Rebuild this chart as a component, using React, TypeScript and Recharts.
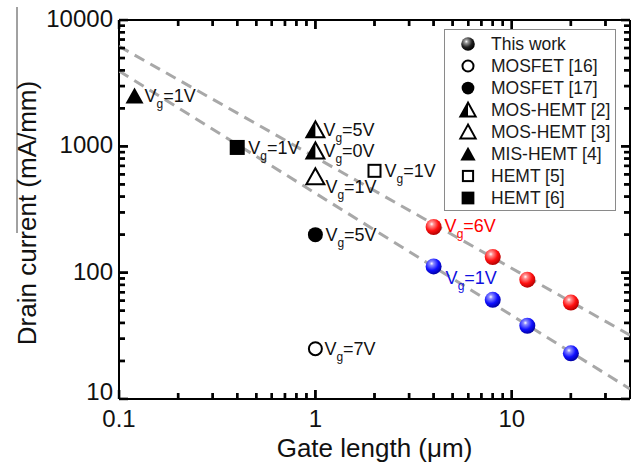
import React from 'react';
import { ScatterChart, Scatter, XAxis, YAxis, ReferenceDot } from 'recharts';

const FONT = '"Liberation Sans", Arial, Helvetica, sans-serif';

// this work: gate length (um) vs drain current (mA/mm)
const workLg = [4, 8, 12, 20];
const workId6V = [230, 133, 88, 58];
const workId1V = [112, 61, 38, 23];
const workVg6 = ['6V', '', '', ''];
const workVg1 = ['1V', '', '', ''];

// references
const mosfet16 = [{ lg: 1, id: 25, vg: '7V' }];
const mosfet17 = [{ lg: 1, id: 200, vg: '5V' }];
const mosHemt2 = [
  { lg: 1, id: 1350, vg: '5V' },
  { lg: 1, id: 920, vg: '0V' },
];
const mosHemt3 = [{ lg: 1, id: 575, vg: '1V' }];
const misHemt4 = [{ lg: 0.12, id: 2500, vg: '1V' }];
const hemt5 = [{ lg: 2, id: 640, vg: '1V' }];
const hemt6 = [{ lg: 0.4, id: 980, vg: '1V' }];

// dashed guide lines
const fitLg = [0.1, 40];
const fitHighId = [6200, 32];
const fitLowId = [3950, 12];

const xDomain = [0.1, 40];
const yDomain = [10, 10000];
const xMajor = [0.1, 1, 10];
const xMinor = [0.2, 0.3, 0.4, 0.5, 0.6, 0.7, 0.8, 0.9, 2, 3, 4, 5, 6, 7, 8, 9, 20, 30];
const yMajor = [10, 100, 1000, 10000];
const yMinor = [
  20, 30, 40, 50, 60, 70, 80, 90, 200, 300, 400, 500, 600, 700, 800, 900, 2000, 3000, 4000, 5000,
  6000, 7000, 8000, 9000,
];

const legendNames = [
  'This work',
  'MOSFET [16]',
  'MOSFET [17]',
  'MOS-HEMT [2]',
  'MOS-HEMT [3]',
  'MIS-HEMT [4]',
  'HEMT [5]',
  'HEMT [6]',
];
const legendKinds = ['black', 'circleOpen', 'circle', 'triHalf', 'triOpen', 'tri', 'squareOpen', 'square'];

const labelStyle: Record<string, { dx: number; dy: number; color: string }> = {
  work6: { dx: 11, dy: 5, color: '#ff0000' },
  work1: { dx: 12, dy: 18, color: '#1010e0' },
  mosfet16: { dx: 9, dy: 6, color: '#111' },
  mosfet17: { dx: 10, dy: 6, color: '#111' },
  mosHemt2: { dx: 8, dy: 6, color: '#111' },
  mosHemt3: { dx: 10, dy: 16, color: '#111' },
  misHemt4: { dx: 10, dy: 6, color: '#111' },
  hemt5: { dx: 10, dy: 6, color: '#111' },
  hemt6: { dx: 11, dy: 7, color: '#111' },
};

const workRows6 = workLg.map((lg, i) => ({ lg, id: workId6V[i], vg: workVg6[i] }));
const workRows1 = workLg.map((lg, i) => ({ lg, id: workId1V[i], vg: workVg1[i] }));
const fitHigh = fitLg.map((lg, i) => ({ lg, id: fitHighId[i] }));
const fitLow = fitLg.map((lg, i) => ({ lg, id: fitLowId[i] }));

// inward tick marks on all four sides of the frame
const xAll = [...xMajor, ...xMinor];
const yAll = [...yMajor, ...yMinor];
const frameMarks = [
  ...xAll.map((lg) => ({ lg, id: yDomain[0], side: 'bottom', big: xMajor.includes(lg) })),
  ...xAll.map((lg) => ({ lg, id: yDomain[1], side: 'top', big: xMajor.includes(lg) })),
  ...yAll.map((id) => ({ lg: xDomain[0], id, side: 'left', big: yMajor.includes(id) })),
  ...yAll.map((id) => ({ lg: xDomain[1], id, side: 'right', big: yMajor.includes(id) })),
];
const inward: Record<string, [number, number]> = {
  bottom: [0, -1],
  top: [0, 1],
  left: [1, 0],
  right: [-1, 0],
};

const fmt = (v: number) => String(v);

const Marker = ({ kind, cx, cy, s = 1 }: { kind: string; cx: number; cy: number; s?: number }) => {
  const w = 9 * s;
  const h = 15 * s;
  const top = cy - h / 2 - 1;
  const bot = cy + h / 2;
  const tri = `${cx},${top} ${cx - w},${bot} ${cx + w},${bot}`;
  switch (kind) {
    case 'red':
    case 'blue':
    case 'black':
      return <circle cx={cx} cy={cy} r={8 * s} fill={`url(#sphere-${kind})`} />;
    case 'circle':
      return <circle cx={cx} cy={cy} r={7.5 * s} fill="#000" />;
    case 'circleOpen':
      return <circle cx={cx} cy={cy} r={6.5 * s} fill="#fff" stroke="#000" strokeWidth={2} />;
    case 'tri':
      return <polygon points={tri} fill="#000" />;
    case 'triOpen':
      return <polygon points={tri} fill="#fff" stroke="#000" strokeWidth={2} strokeLinejoin="miter" />;
    case 'triHalf':
      return (
        <g>
          <polygon points={tri} fill="#fff" stroke="#000" strokeWidth={2} />
          <polygon points={`${cx},${top} ${cx - w},${bot} ${cx},${bot}`} fill="#000" />
        </g>
      );
    case 'square':
      return <rect x={cx - 7.5 * s} y={cy - 7.5 * s} width={15 * s} height={15 * s} fill="#000" />;
    case 'squareOpen':
      return (
        <rect x={cx - 6 * s} y={cy - 6 * s} width={12 * s} height={12 * s} fill="#fff" stroke="#000" strokeWidth={2} />
      );
    default:
      return <g />;
  }
};

const VgLabel = ({ x, y, text, color }: { x: number; y: number; text: string; color: string }) => (
  <text x={x} y={y} fontSize={18} fill={color} fontFamily={FONT}>
    V
    <tspan dy={6} fontSize={12}>
      g
    </tspan>
    <tspan dy={-6}>={text}</tspan>
  </text>
);

const makeShape = (kind: string, key: string) => (p: any) => {
  const st = labelStyle[key];
  const vg = p.payload && p.payload.vg;
  return (
    <g>
      <Marker kind={kind} cx={p.cx} cy={p.cy} />
      {vg ? <VgLabel x={p.cx + st.dx} y={p.cy + st.dy} text={vg} color={st.color} /> : null}
    </g>
  );
};

const tickLine = (cx: number, cy: number, side: string, big: boolean) => {
  const [ux, uy] = inward[side];
  const len = big ? 9 : 6;
  return (
    <g>
      <line x1={cx} y1={cy} x2={cx + ux * len} y2={cy + uy * len} stroke="#000" strokeWidth={2.4} />
    </g>
  );
};

const noShape = () => <g />;

const BottomLabel = (p: any) => {
  const v = p.payload.value;
  if (!xMajor.includes(v)) return <g />;
  return (
    <text x={p.x} y={p.y + 28} textAnchor="middle" fontSize={24} fill="#111" fontFamily={FONT}>
      {fmt(v)}
    </text>
  );
};

const LeftLabel = (p: any) => {
  const v = p.payload.value;
  if (!yMajor.includes(v)) return <g />;
  return (
    <text x={p.x - 6} y={p.y + (v === yDomain[0] ? 1 : 7)} textAnchor="end" fontSize={24} fill="#111" fontFamily={FONT}>
      {fmt(v)}
    </text>
  );
};

const YTitle = (p: any) => {
  const vb = p.viewBox;
  const bx = vb.x + 36;
  const cy = vb.y + vb.height / 2 + 3.5;
  return (
    <g>
      <line x1={bx - 19} x2={bx - 19} y1={vb.y - 13} y2={vb.y + 213} stroke="#444" strokeWidth={1} />
      <text
        x={bx}
        y={cy}
        transform={`rotate(-90, ${bx}, ${cy})`}
        textAnchor="middle"
        fontSize={26}
        fill="#111"
        fontFamily={FONT}
      >
        Drain current (mA/mm)
      </text>
    </g>
  );
};

const XTitle = (p: any) => {
  const vb = p.viewBox;
  return (
    <text x={vb.x + vb.width / 2} y={vb.y + 58} textAnchor="middle" fontSize={26} fill="#111" fontFamily={FONT}>
      Gate length (μm)
    </text>
  );
};

const LegendBox = () => (
  <div
    style={{
      position: 'absolute',
      left: 444,
      top: 29,
      width: 172,
      height: 182,
      border: '1px solid #8a8a8a',
      boxSizing: 'border-box',
      background: '#fff',
      paddingTop: 3,
      fontFamily: FONT,
      fontSize: 17.5,
      color: '#1a1a1a',
    }}
  >
    {legendNames.map((name, i) => (
      <div key={name} style={{ display: 'flex', alignItems: 'center', height: 22 }}>
        <svg width={46} height={22} style={{ flex: 'none' }}>
          <Marker kind={legendKinds[i]} cx={23} cy={11} s={0.85} />
        </svg>
        <span style={{ whiteSpace: 'nowrap' }}>{name}</span>
      </div>
    ))}
  </div>
);

const sphereStops = (light: string, mid: string, dark: string) => (
  <>
    <stop offset="0%" stopColor="#ffffff" />
    <stop offset="18%" stopColor={light} />
    <stop offset="60%" stopColor={mid} />
    <stop offset="100%" stopColor={dark} />
  </>
);

const frame = { stroke: '#000', strokeWidth: 2 };

export default function App() {
  return (
    <div style={{ position: 'absolute', left: 0, top: 0, width: 635, height: 464, background: '#fff' }}>
      <ScatterChart width={635} height={464} margin={{ top: 0, right: 0, bottom: 0, left: 0 }}>
        <defs>
          <radialGradient id="sphere-red" cx="38%" cy="32%" r="70%">
            {sphereStops('#ff9090', '#ff1010', '#b00000')}
          </radialGradient>
          <radialGradient id="sphere-blue" cx="38%" cy="32%" r="70%">
            {sphereStops('#8a8aff', '#1010ff', '#0000a0')}
          </radialGradient>
          <radialGradient id="sphere-black" cx="38%" cy="32%" r="70%">
            {sphereStops('#9a9a9a', '#202020', '#000000')}
          </radialGradient>
        </defs>
        <XAxis
          dataKey="lg"
          type="number"
          scale="log"
          domain={xDomain}
          allowDataOverflow
          ticks={xAll}
          interval={0}
          height={65}
          tickSize={0}
          tickMargin={0}
          tickLine={false}
          tick={BottomLabel}
          axisLine={frame}
          label={{ content: XTitle }}
        />
        <XAxis
          xAxisId="top"
          orientation="top"
          type="number"
          scale="log"
          domain={xDomain}
          allowDataOverflow
          height={20}
          tick={false}
          tickLine={false}
          axisLine={frame}
        />
        <YAxis
          dataKey="id"
          type="number"
          scale="log"
          domain={yDomain}
          allowDataOverflow
          ticks={yAll}
          interval={0}
          width={119}
          tickSize={0}
          tickMargin={0}
          tickLine={false}
          tick={LeftLabel}
          axisLine={frame}
          label={{ content: YTitle }}
        />
        <YAxis
          yAxisId="right"
          orientation="right"
          type="number"
          scale="log"
          domain={yDomain}
          allowDataOverflow
          width={5}
          tick={false}
          tickLine={false}
          axisLine={frame}
        />
        <Scatter
          data={fitHigh}
          shape={noShape}
          line={{ stroke: '#a8a8a8', strokeWidth: 3, strokeDasharray: '11 7' }}
          isAnimationActive={false}
        />
        <Scatter
          data={fitLow}
          shape={noShape}
          line={{ stroke: '#a8a8a8', strokeWidth: 3, strokeDasharray: '11 7' }}
          isAnimationActive={false}
        />
        <Scatter name="MIS-HEMT [4]" data={misHemt4} shape={makeShape('tri', 'misHemt4')} isAnimationActive={false} />
        <Scatter name="HEMT [6]" data={hemt6} shape={makeShape('square', 'hemt6')} isAnimationActive={false} />
        <Scatter name="MOS-HEMT [2]" data={mosHemt2} shape={makeShape('triHalf', 'mosHemt2')} isAnimationActive={false} />
        <Scatter name="MOS-HEMT [3]" data={mosHemt3} shape={makeShape('triOpen', 'mosHemt3')} isAnimationActive={false} />
        <Scatter name="HEMT [5]" data={hemt5} shape={makeShape('squareOpen', 'hemt5')} isAnimationActive={false} />
        <Scatter name="MOSFET [17]" data={mosfet17} shape={makeShape('circle', 'mosfet17')} isAnimationActive={false} />
        <Scatter name="MOSFET [16]" data={mosfet16} shape={makeShape('circleOpen', 'mosfet16')} isAnimationActive={false} />
        <Scatter name="This work" data={workRows6} shape={makeShape('red', 'work6')} isAnimationActive={false} />
        <Scatter name="This work 1V" data={workRows1} shape={makeShape('blue', 'work1')} isAnimationActive={false} />
        <Scatter
          data={frameMarks}
          shape={(p: any) => tickLine(p.cx, p.cy, p.payload.side, p.payload.big)}
          isAnimationActive={false}
        />
        {frameMarks.map((m, i) => (
          <ReferenceDot
            key={`mark-${i}`}
            x={m.lg}
            y={m.id}
            r={1}
            ifOverflow="visible"
            shape={(p: any) => tickLine(p.cx, p.cy, m.side, m.big)}
          />
        ))}
      </ScatterChart>
      <LegendBox />
    </div>
  );
}
